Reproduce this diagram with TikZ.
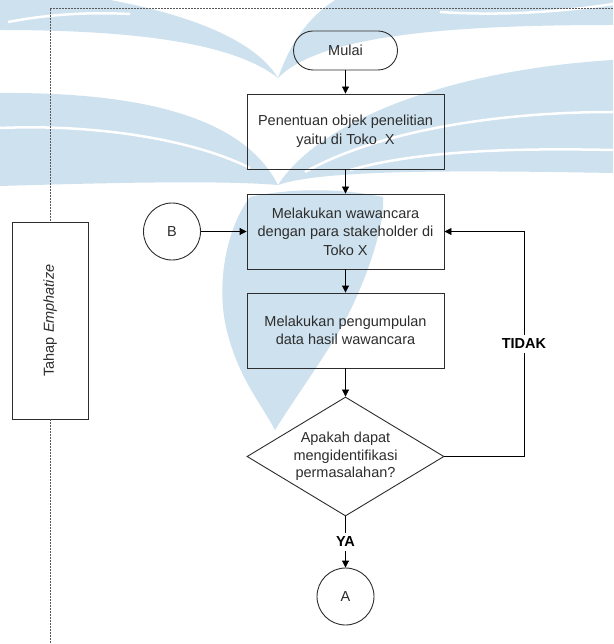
\documentclass[tikz,border=0pt]{standalone}
\usepackage{fontspec}
\setmainfont{Liberation Sans}
\usetikzlibrary{arrows.meta,shapes.geometric}
\definecolor{wm}{RGB}{206,225,238}
\definecolor{ink}{RGB}{45,45,45}
\begin{document}
\begin{tikzpicture}[x=1pt,y=-1pt,
  every node/.style={font=\fontsize{14.5}{18.5}\selectfont, text=ink},
  proc/.style={draw=ink, line width=0.9pt, rectangle, minimum width=197pt,
    minimum height=75pt, inner sep=0pt, align=center},
  term/.style={draw=ink, line width=0.9pt, rectangle, rounded corners=19.5pt,
    minimum width=104pt, minimum height=39pt, inner sep=0pt},
  decision/.style={draw=ink, line width=0.9pt, diamond, minimum width=197pt,
    minimum height=119pt, inner sep=0pt},
  conn/.style={draw=ink, line width=0.9pt, circle, minimum size=57pt, inner sep=0pt},
  lane/.style={draw=ink, line width=0.9pt, rectangle, minimum width=76pt,
    minimum height=197pt, inner sep=0pt},
  lbl/.style={font=\fontsize{14.5}{18.5}\selectfont\bfseries, text=black, inner sep=4pt},
  link/.style={draw=black, line width=0.9pt},
  flow/.style={link, -{Triangle[length=7pt,width=7pt]}},
  frame/.style={draw=black!65, line width=0.8pt, dash pattern=on 2pt off 1pt}
]
\useasboundingbox (0,0) rectangle (613,644);
\fill[white] (0,0) rectangle (613,644);

% light background emblem
\fill[wm] (0,0) -- (110,0) .. controls (190,15) and (255,40) .. (278,78)
  .. controls (290,45) and (305,20) .. (335,0) -- (613,0) -- (613,25)
  .. controls (450,25) and (320,35) .. (278,78)
  .. controls (230,40) and (120,30) .. (0,30) -- cycle;
\fill[wm] (0,93) .. controls (150,92) and (245,120) .. (278,185)
  .. controls (320,120) and (450,70) .. (613,60) -- (613,173)
  .. controls (450,170) and (320,170) .. (278,185)
  .. controls (220,180) and (100,183) .. (0,186) -- cycle;
\fill[wm] (250,197) .. controls (225,230) and (215,290) .. (228,335)
  .. controls (240,380) and (262,405) .. (275,430)
  .. controls (300,390) and (330,350) .. (348,315)
  .. controls (368,275) and (385,225) .. (383,197)
  .. controls (340,188) and (290,188) .. (250,197) -- cycle;
\draw[white, line width=2.5pt] (8,22) .. controls (50,14) and (90,12) .. (130,14);
\draw[white, line width=2.5pt] (440,12) .. controls (500,16) and (560,12) .. (613,4);
\draw[white, line width=2.5pt] (0,128) .. controls (90,124) and (190,138) .. (250,168);
\draw[white, line width=2.5pt] (613,112) .. controls (500,112) and (380,130) .. (305,172);
\draw[white, line width=2.5pt] (613,150) .. controls (520,148) and (420,150) .. (350,170);

% swimlane frame and lane label
\node[lane] (tahap) at (50,320.5) {};
\node[rotate=90] (tahaptxt) at (tahap.center) {Tahap \textit{Emphatize}};
\coordinate (frR) at (613,8);
\coordinate (frL) at (50,8);
\coordinate (frB) at (50,644);
\draw[frame] (frR) -- (frL) -- (frL |- tahap.north);
\draw[frame] (tahap.south) -- (frB);

% flow
\node[term] (start) at (345.5,50.5) {Mulai};
\node[proc] (b1) at (345.5,131.5) {Penentuan objek penelitian\\yaitu di Toko\ \ X};
\node[proc] (b2) at (345.5,231.5) {Melakukan wawancara\\dengan para stakeholder di\\Toko X};
\node[proc] (b3) at (345.5,330.5) {Melakukan pengumpulan\\data hasil wawancara};
\node[decision] (dec) at (345.5,456.5) {};
\node[align=center, font=\fontsize{14.5}{17.5}\selectfont] (dectxt) at (dec.center)
  {Apakah dapat\\mengidentifikasi\\permasalahan?};
\node[conn] (B) at (172,231.5) {B};
\node[conn] (A) at (345.5,596.5) {A};
\node[lbl] (ya) at (345.5,542) {YA};
\node[lbl] (tidak) at (524,344) {TIDAK};

\draw[flow] (start) -- (b1);
\draw[flow] (b1) -- (b2);
\draw[flow] (b2) -- (b3);
\draw[flow] (b3) -- (dec);
\draw[flow] (B) -- (b2);
\draw[link] (dec.south) -- (ya.north);
\draw[flow] (ya.south) -- (A.north);
\draw[link] (dec.east) -| (tidak.south);
\draw[flow] (tidak.north) |- (b2.east);
\end{tikzpicture}
\end{document}
